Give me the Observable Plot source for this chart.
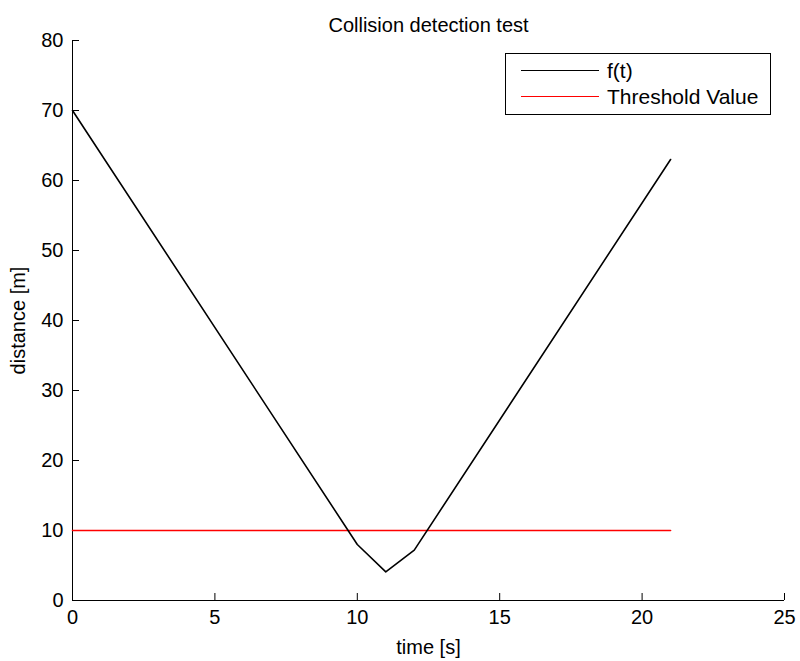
<!DOCTYPE html>
<html><head><meta charset="utf-8">
<script src="https://cdn.jsdelivr.net/npm/d3@7"></script>
<script src="https://cdn.jsdelivr.net/npm/@observablehq/plot@0.6"></script>
<style>
body{margin:0;background:#fff;font-family:"Liberation Sans",Arial,Helvetica,sans-serif}
#wrap{position:relative;width:800px;height:661px}
#legend{position:absolute;left:505px;top:53px;width:264px;height:60px;border:1px solid #000;background:#fff;box-sizing:content-box}
.item{position:absolute;left:0;height:26px;font-size:21px;line-height:26px;color:#000}
.item .sw{position:absolute;left:15px;top:12px;width:78px;height:0;border-top:1.5px solid}
.item .lb{position:absolute;left:101px;top:0;white-space:nowrap}
</style></head>
<body><div id="wrap"><div id="legend"></div></div>
<script>
const times = [0, 10, 11, 12, 21];
const distances = [70, 8.0, 4.1, 7.2, 63];
const thresholdTimes = [0, 21];
const thresholdValue = 10;
const xTicks = [0, 5, 10, 15, 20, 25];
const yTicks = [0, 10, 20, 30, 40, 50, 60, 70, 80];
const seriesNames = ["f(t)", "Threshold Value"];
const seriesColors = ["#000000", "#ff0000"];
const title = "Collision detection test";
const xLabel = "time [s]";
const yLabel = "distance [m]";

const fData = times.map((t, i) => ({t, d: distances[i]}));
const thData = thresholdTimes.map(t => ({t, d: thresholdValue}));

const chart = Plot.plot({
  width: 800, height: 661,
  marginTop: 40, marginBottom: 61, marginLeft: 72, marginRight: 16,
  style: {fontFamily: '"Liberation Sans", Arial, sans-serif', fontSize: "20px", color: "#000", background: "#fff"},
  x: {domain: [0, 25]},
  y: {domain: [0, 80]},
  marks: [
    Plot.axisX(xTicks, {tickSize: -7, tickFormat: () => "", label: null}),
    Plot.axisX(xTicks, {tickSize: 0, tickPadding: 9, label: xLabel, labelAnchor: "center", labelOffset: 53, labelArrow: "none", fontSize: 20}),
    Plot.axisY(yTicks, {tickSize: -7, tickFormat: () => "", label: null}),
    Plot.axisY(yTicks, {tickSize: 0, tickPadding: 9, label: yLabel, labelAnchor: "center", labelOffset: 62, labelArrow: "none", fontSize: 20}),
    Plot.ruleX([0], {stroke: "#000", strokeWidth: 1}),
    Plot.ruleY([0], {stroke: "#000", strokeWidth: 1}),
    Plot.line(thData, {x: "t", y: "d", stroke: seriesColors[1], strokeWidth: 1.6}),
    Plot.line(fData, {x: "t", y: "d", stroke: seriesColors[0], strokeWidth: 1.6}),
    Plot.text([title], {frameAnchor: "top", dy: -23, fontSize: 20, fill: "#000"})
  ]
});
document.getElementById("wrap").prepend(chart);

const legend = document.getElementById("legend");
seriesNames.forEach((name, i) => {
  const it = document.createElement("div");
  it.className = "item";
  it.style.top = (4 + i * 26) + "px";
  it.style.width = "100%";
  const sw = document.createElement("div");
  sw.className = "sw"; sw.style.borderTopColor = seriesColors[i];
  const lb = document.createElement("div");
  lb.className = "lb"; lb.textContent = name;
  it.appendChild(sw); it.appendChild(lb);
  legend.appendChild(it);
});
</script>
</body></html>
